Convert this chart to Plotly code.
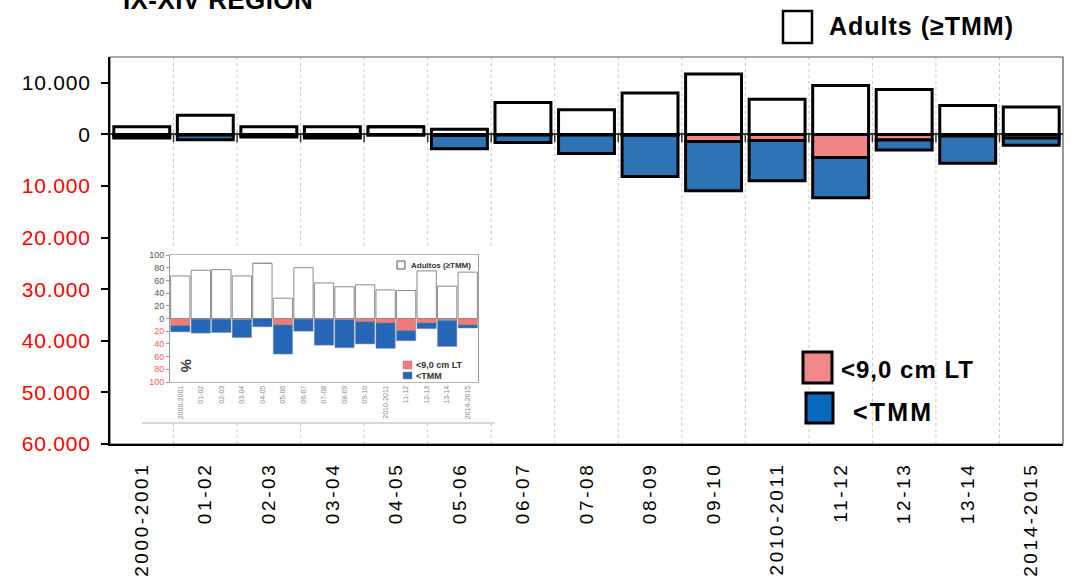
import plotly.graph_objects as go

# ---- data -------------------------------------------------------------
seasons = ["2000-2001", "01-02", "02-03", "03-04", "04-05", "05-06", "06-07",
           "07-08", "08-09", "09-10", "2010-2011", "11-12", "12-13", "13-14",
           "2014-2015"]

# landings (units), main panel
adults = [1500, 3700, 1500, 1500, 1500, 1000, 6200, 4800, 8000, 11700,
          6800, 9500, 8700, 5600, 5300]
small_lt = [300, 100, 100, 100, 0, 200, 100, 100, 150, 1400,
            1200, 4500, 1100, 300, 700]
below_tmm = [400, 950, 400, 600, 150, 2600, 1450, 3600, 8000, 9500,
             7800, 7800, 1900, 5300, 1400]

# percentages, inset panel
adults_pct = [67, 76, 77, 67, 87, 32, 80, 56, 50, 53, 45, 44, 75, 51, 73]
small_lt_pct = [11, 1, 1, 2, 0, 10, 1, 1, 2, 5, 7, 19, 7, 3, 10]
below_tmm_pct = [10, 22, 21, 28, 13, 46, 19, 41, 44, 35, 40, 16, 9, 41, 5]

y_tick_vals = [10000, 0, -10000, -20000, -30000, -40000, -50000, -60000]
y_tick_text = ["10.000", "0", "10.000", "20.000", "30.000", "40.000",
               "50.000", "60.000"]
inset_tick_vals = [100, 80, 60, 40, 20, 0, -20, -40, -60, -80, -100]
inset_tick_text = ["100", "80", "60", "40", "20", "0", "20", "40", "60",
                   "80", "100"]

# ---- styling ----------------------------------------------------------
FONT = "Liberation Sans, Arial, sans-serif"
PINK = "#f08686"
BLUE = "#2e74b5"
RED = "#ff0000"

W, H = 1071, 582
ML, MR, MT, MB = 110, 8, 57, 138
PW, PH = W - ML - MR, H - MT - MB


def px_x(p):
    return (p - ML) / PW


def px_y(p):
    return (H - MB - p) / PH


def red(s):
    return f"<span style='color:{RED}'>{s}</span>"


def spaced(s, sp):
    return f"<span style='letter-spacing:{sp}px'>{s}</span>"


fig = go.Figure()

# main panel bars
fig.add_bar(x=seasons, y=adults, width=0.88,
            marker=dict(color="white", line=dict(color="black", width=3)),
            showlegend=False)
fig.add_bar(x=seasons, y=[-v for v in small_lt], width=0.88,
            marker=dict(color=PINK, line=dict(color="black", width=3)),
            showlegend=False)
fig.add_bar(x=seasons, y=[-v for v in below_tmm], width=0.88,
            marker=dict(color=BLUE, line=dict(color="black", width=3)),
            showlegend=False)

# inset bars (percent)
fig.add_bar(x=seasons, y=adults_pct, width=0.94, xaxis="x2", yaxis="y2",
            marker=dict(color="white", line=dict(color="#8a8a8a", width=1)),
            showlegend=False)
fig.add_bar(x=seasons, y=[-v for v in small_lt_pct], width=0.94,
            xaxis="x2", yaxis="y2",
            marker=dict(color="#f27a7a", line=dict(color="#8a8a8a", width=0.5)),
            showlegend=False)
fig.add_bar(x=seasons, y=[-v for v in below_tmm_pct], width=0.94,
            xaxis="x2", yaxis="y2",
            marker=dict(color="#2566b8", line=dict(color="#8a8a8a", width=0.5)),
            showlegend=False)

shapes = []
# dotted separators between seasons (interrupted behind the inset)
for k in range(len(seasons) - 1):
    xpix = ML + (k + 1) * PW / len(seasons)
    if xpix < 497:
        spans = [(0, px_y(424)), (px_y(246), 1)]
    else:
        spans = [(0, 1)]
    for y0, y1 in spans:
        shapes.append(dict(type="line", xref="x", yref="paper",
                           x0=k + 0.5, x1=k + 0.5, y0=y0, y1=y1,
                           line=dict(color="#c8c8c8", width=1, dash="dot"),
                           layer="below"))
    # small tick marks on the zero line
    shapes.append(dict(type="line", xref="x", yref="y",
                       x0=k + 0.5, x1=k + 0.5, y0=300, y1=-1500,
                       line=dict(color="#333", width=1.5)))

# plot frame
shapes.append(dict(type="rect", xref="x domain", yref="y domain",
                   x0=0, x1=1, y0=0, y1=1,
                   line=dict(color="#555", width=1.2), layer="below"))
# inset base line
shapes.append(dict(type="line", xref="paper", yref="paper",
                   x0=px_x(142), x1=px_x(495), y0=px_y(423), y1=px_y(423),
                   line=dict(color="#b0b0b0", width=1)))

# legend keys (main)
shapes.append(dict(type="rect", xref="paper", yref="paper",
                   x0=px_x(783), x1=px_x(812), y0=px_y(43), y1=px_y(11),
                   fillcolor="white", line=dict(color="black", width=2.5)))
shapes.append(dict(type="rect", xref="paper", yref="paper",
                   x0=px_x(803), x1=px_x(832), y0=px_y(383), y1=px_y(352),
                   fillcolor="#f08888", line=dict(color="black", width=3)))
shapes.append(dict(type="rect", xref="paper", yref="paper",
                   x0=px_x(806), x1=px_x(833), y0=px_y(423), y1=px_y(393),
                   fillcolor="#0a68c0", line=dict(color="black", width=3)))

# legend keys (inset)
shapes.append(dict(type="rect", xref="paper", yref="paper",
                   x0=px_x(397), x1=px_x(405), y0=px_y(269), y1=px_y(261),
                   fillcolor="white", line=dict(color="#555", width=1)))
shapes.append(dict(type="rect", xref="paper", yref="paper",
                   x0=px_x(403), x1=px_x(412), y0=px_y(369), y1=px_y(361),
                   fillcolor="#f27a7a", line=dict(color="#888", width=0.5)))
shapes.append(dict(type="rect", xref="paper", yref="paper",
                   x0=px_x(403), x1=px_x(412), y0=px_y(379), y1=px_y(372),
                   fillcolor="#2566b8", line=dict(color="#888", width=0.5)))

annotations = [
    dict(text="<b>" + spaced("IX-XIV REGION", 0.4) + "</b>",
         xref="paper", yref="paper",
         x=px_x(121), y=px_y(0), xanchor="left", yanchor="middle",
         showarrow=False, font=dict(family=FONT, size=26, color="black")),
    dict(text="<b>" + spaced("Adults (≥TMM)", 1.0) + "</b>",
         xref="paper", yref="paper",
         x=px_x(827), y=px_y(26), xanchor="left", yanchor="middle",
         showarrow=False, font=dict(family=FONT, size=25, color="black")),
    dict(text="<b>" + spaced("&lt;9,0 cm LT", 1.0) + "</b>",
         xref="paper", yref="paper",
         x=px_x(839), y=px_y(369), xanchor="left", yanchor="middle",
         showarrow=False, font=dict(family=FONT, size=24, color="black")),
    dict(text="<b>" + spaced("&lt;TMM", 2.2) + "</b>",
         xref="paper", yref="paper",
         x=px_x(851), y=px_y(412), xanchor="left", yanchor="middle",
         showarrow=False, font=dict(family=FONT, size=25, color="black")),
    # inset labels
    dict(text="<b>Adultos (≥TMM)</b>", xref="paper", yref="paper",
         x=px_x(409), y=px_y(265), xanchor="left", yanchor="middle",
         showarrow=False, font=dict(family=FONT, size=8, color="#333")),
    dict(text="<b>&lt;9,0 cm LT</b>", xref="paper", yref="paper",
         x=px_x(414), y=px_y(365), xanchor="left", yanchor="middle",
         showarrow=False, font=dict(family=FONT, size=9, color="#333")),
    dict(text="<b>&lt;TMM</b>", xref="paper", yref="paper",
         x=px_x(414), y=px_y(375.5), xanchor="left", yanchor="middle",
         showarrow=False, font=dict(family=FONT, size=9, color="#333")),
    dict(text="<b>%</b>", xref="paper", yref="paper",
         x=px_x(187), y=px_y(365), xanchor="center", yanchor="middle",
         textangle=90, showarrow=False,
         font=dict(family=FONT, size=15, color="#333")),
]

fig.update_layout(
    width=W, height=H, autosize=False,
    margin=dict(l=ML, r=MR, t=MT, b=MB, autoexpand=False),
    paper_bgcolor="white", plot_bgcolor="rgba(0,0,0,0)",
    barmode="relative",
    font=dict(family=FONT, color="black"),
    xaxis=dict(domain=[0, 1], range=[-0.5, 14.5], type="category",
               automargin=False,
               tickangle=-90, ticks="", showgrid=False, zeroline=False,
               showline=True, linecolor="black", linewidth=2,
               tickmode="array", tickvals=seasons,
               ticktext=[spaced(s, 2.6) for s in seasons],
               ticklabelstandoff=9,
               tickfont=dict(family=FONT, size=19, color="black")),
    yaxis=dict(domain=[0, 1], range=[-60000, 15000], automargin=False,
               tickmode="array", tickvals=y_tick_vals,
               ticktext=[spaced(t, 0.8) if v >= 0 else red(spaced(t, 0.8))
                         for v, t in zip(y_tick_vals, y_tick_text)],
               ticks="outside", ticklen=7, tickwidth=1.5, tickcolor="black",
               showline=True, linecolor="black", linewidth=2,
               showgrid=False, zeroline=True, zerolinecolor="#444",
               zerolinewidth=2, ticklabelstandoff=6,
               tickfont=dict(family=FONT, size=21, color="black")),
    xaxis2=dict(domain=[px_x(170), px_x(478)], anchor="y2",
                automargin=False,
                range=[-0.5, 14.5], type="category", tickangle=-90,
                ticks="", showgrid=False, zeroline=False,
                showline=True, linecolor="#b5b5b5", linewidth=1, mirror=True,
                tickfont=dict(family=FONT, size=7, color="#888")),
    yaxis2=dict(domain=[px_y(382), px_y(255)], anchor="x2",
                automargin=False,
                range=[-100, 100], tickmode="array",
                tickvals=inset_tick_vals,
                ticktext=[t if v >= 0 else
                          f"<span style='color:#ff5a5a'>{t}</span>"
                          for v, t in zip(inset_tick_vals, inset_tick_text)],
                ticks="outside", ticklen=3, tickcolor="#999",
                showline=True, linecolor="#999", linewidth=1, mirror=True,
                showgrid=False, zeroline=False,
                tickfont=dict(family=FONT, size=9, color="#555")),
    shapes=shapes,
    annotations=annotations,
)

fig.write_html("out.html")
